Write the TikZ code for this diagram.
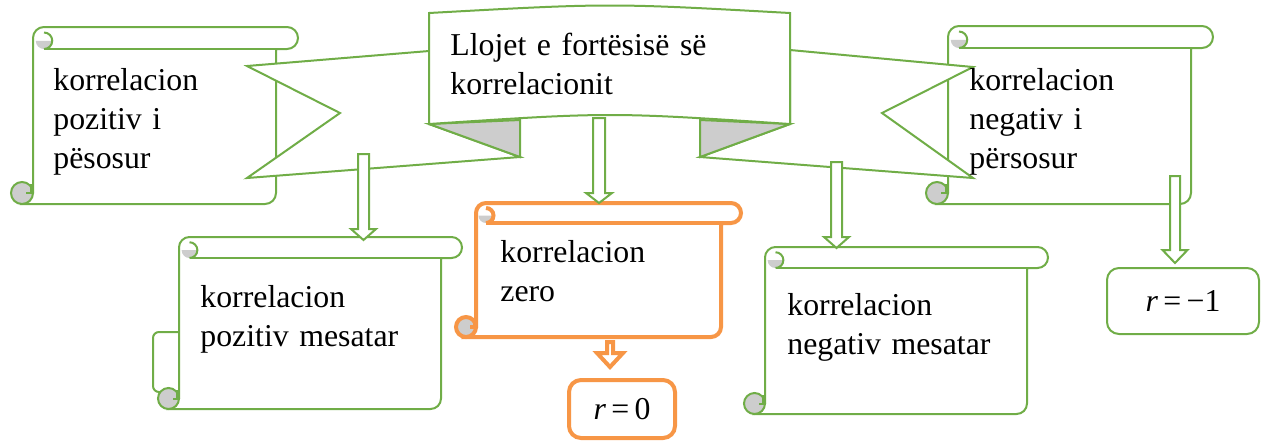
\documentclass[tikz,border=0pt]{standalone}
\usepackage{fontspec}
\setmainfont{Liberation Serif}
\definecolor{scroll_green}{RGB}{112, 173, 71}
\definecolor{scroll_orange}{RGB}{247, 150, 70}
\definecolor{curl_gray}{RGB}{205, 205, 205}

\tikzset{
  green line/.style={color=scroll_green, line width=1pt},
  orange line/.style={color=scroll_orange, line width=2pt},
  scroll text/.style={anchor=base west, inner sep=0pt, text width=5cm, align=left,
    font=\fontsize{15.9}{19.5}\selectfont},
  r box/.style={draw, fill=white, text=black, rounded corners=6pt, inner sep=0pt,
    font=\fontsize{15.9}{19.5}\selectfont},
  pics/scroll/.style n args={3}{code={
    \pgfmathsetmacro\rollr{#3/2}
    \filldraw[fill=white] (0,#2-\rollr) -- (0,\rollr) arc[start angle=180, end angle=270, radius=\rollr]
      -- (#1-\rollr,0) arc[start angle=270, end angle=450, radius=\rollr]
      -- (#1-#3,#3) -- (#1-#3,#2-\rollr) arc[start angle=0, end angle=90, radius=\rollr]
      -- (-\rollr,#2) -- cycle;
    \draw (#1-#3,#3) -- (\rollr,#3);
    \fill[curl_gray] (1.75*\rollr,1.25*\rollr) arc[start angle=0, end angle=180, radius=0.75*\rollr] -- cycle;
    \draw (\rollr,0.5*\rollr) arc[start angle=270, end angle=450, radius=0.75*\rollr];
    \filldraw[fill=curl_gray] (-\rollr,#2-\rollr) circle[radius=\rollr];
    \draw (-0.15*\rollr,#2-1.8*\rollr) -- (-0.15*\rollr,#2-\rollr) -- (-0.6*\rollr,#2-\rollr);
  }},
  pics/downblock/.style n args={4}{code={
    \filldraw[fill=white] (-#1,0) -- (#1,0) -- (#1,#3) -- (#2,#3) -- (0,#4) -- (-#2,#3) -- (-#1,#3) -- cycle;
  }}
}

\begin{document}
\begin{tikzpicture}[x=0.5pt, y=-0.5pt]
\useasboundingbox (0,0) rectangle (1264,441);

\pic[green line] at (33,27) {scroll={265}{177}{22}};
\pic[green line] at (948,26) {scroll={265}{178}{22}};

\filldraw[green line, fill=white] (429,51) -- (247,66) -- (340,113) -- (247,178) -- (520,157) -- (429,124) -- cycle;
\filldraw[green line, fill=white] (790,50) -- (973,67) -- (882,113) -- (973,178) -- (700,157) -- (790,124) -- cycle;
\filldraw[green line, fill=curl_gray] (429,124) -- (520,120) -- (520,157) -- cycle;
\filldraw[green line, fill=curl_gray] (700,120) -- (790,124) -- (700,157) -- cycle;
\filldraw[green line, fill=white] (429,13) .. controls (610,3) .. (790,13) -- (790,124)
  .. controls (610,112) .. (429,124) -- cycle;

\draw[green line, rounded corners=3pt] (179,332) -- (153,332) -- (153,392) -- (165,392);
\pic[green line] at (179,237) {scroll={283}{172}{21}};
\pic[green line] at (765,247) {scroll={283}{167}{21}};
\pic[orange line] at (476,203) {scroll={265}{134}{20}};

\node[orange line, r box, minimum width=53pt, minimum height=29pt] (rzero) at (622,409) {\textit{r}\,=\,0};
\node[green line, r box, minimum width=76pt, minimum height=33pt] (rneg) at (1183,301) {\textit{r}\,=\,−1\hspace{12pt}};

\pic[green line] at (363.5,154) {downblock={5.5}{12.5}{75}{86}};
\pic[green line] at (599,118) {downblock={6}{13}{75}{85}};
\pic[green line] at (836.5,162) {downblock={5.5}{12.5}{75}{86}};
\pic[green line] at (1175,176) {downblock={5}{12.5}{74}{87}};
\pic[orange line] at (610,342) {downblock={3}{13}{11}{25}};

\node[scroll text] (pozperf) at (53,90) {korrelacion\\pozitiv i\\pësosur};
\node[scroll text] (title) at (450,55) {Llojet e fortësisë së\\korrelacionit};
\node[scroll text] (negperf) at (969,90) {korrelacion\\negativ i\\përsosur};
\node[scroll text] (pozmes) at (200,307) {korrelacion\\pozitiv mesatar};
\node[scroll text] (zero) at (500,262) {korrelacion\\zero};
\node[scroll text] (negmes) at (787,315) {korrelacion\\negativ mesatar};

\end{tikzpicture}
\end{document}
